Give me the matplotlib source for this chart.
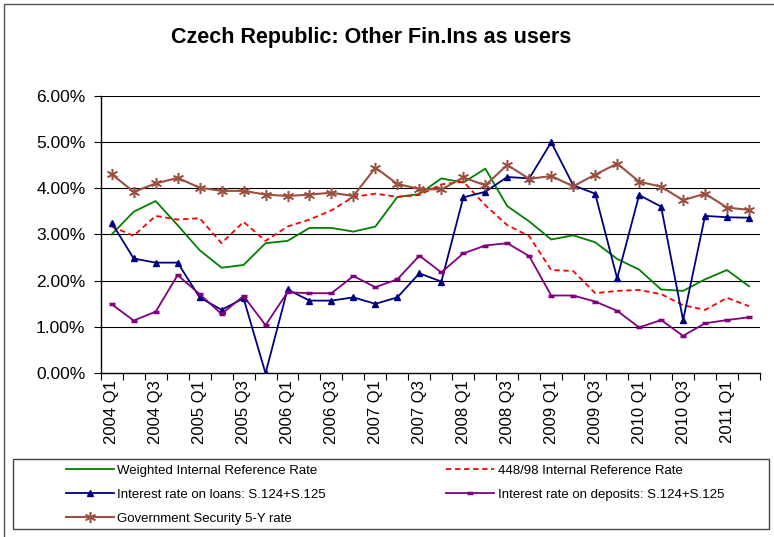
import numpy as np
import matplotlib
matplotlib.use("Agg")
import matplotlib.pyplot as plt
from matplotlib.patches import Rectangle
from matplotlib.ticker import FuncFormatter

plt.rcParams['font.family'] = ['Liberation Sans', 'DejaVu Sans']

quarters = [f"{y} Q{q}" for y in range(2004, 2012) for q in range(1, 5)][:30]

weighted_irr = [3.00, 3.49, 3.72, 3.20, 2.66, 2.28, 2.34, 2.81, 2.86, 3.14,
                3.14, 3.06, 3.17, 3.81, 3.87, 4.21, 4.12, 4.42, 3.61, 3.28,
                2.89, 2.98, 2.83, 2.47, 2.24, 1.81, 1.78, 2.03, 2.23, 1.88]
irr_448 = [3.17, 2.97, 3.40, 3.32, 3.35, 2.81, 3.27, 2.86, 3.17, 3.32,
           3.52, 3.81, 3.88, 3.81, 3.85, 4.08, 4.14, 3.63, 3.20, 2.96,
           2.23, 2.21, 1.73, 1.78, 1.80, 1.71, 1.47, 1.37, 1.63, 1.45]
loans = [3.25, 2.48, 2.39, 2.39, 1.64, 1.37, 1.62, 0.00, 1.81, 1.57,
         1.57, 1.64, 1.50, 1.64, 2.16, 1.98, 3.80, 3.92, 4.24, 4.21,
         4.99, 4.06, 3.88, 2.05, 3.85, 3.60, 1.15, 3.40, 3.37, 3.36]
deposits = [1.49, 1.14, 1.33, 2.12, 1.71, 1.28, 1.67, 1.04, 1.75, 1.73,
            1.73, 2.10, 1.86, 2.03, 2.54, 2.18, 2.59, 2.76, 2.81, 2.53,
            1.68, 1.68, 1.55, 1.35, 0.99, 1.15, 0.81, 1.08, 1.15, 1.21]
gov_5y = [4.30, 3.92, 4.10, 4.22, 4.01, 3.94, 3.94, 3.86, 3.83, 3.86,
          3.90, 3.83, 4.44, 4.09, 3.98, 3.97, 4.23, 4.06, 4.50, 4.20,
          4.26, 4.04, 4.29, 4.53, 4.14, 4.03, 3.74, 3.88, 3.58, 3.53]

x = np.arange(len(quarters))

fig = plt.figure(figsize=(7.74, 5.37), dpi=100)
ax = fig.add_axes([100.7 / 774, 1 - 373.3 / 537, (760 - 100.7) / 774, (373.3 - 95.5) / 537])

for yv in range(1, 7):
    ax.axhline(yv, color='black', lw=0.8, zorder=1)

l_green, = ax.plot(x, weighted_irr, color='#008000', lw=1.3, zorder=3,
                   label='Weighted Internal Reference Rate')
l_red, = ax.plot(x, irr_448, color='#ff0000', lw=1.3, ls=(0, (3, 2)), zorder=3,
                 label='448/98 Internal Reference Rate')
l_blue, = ax.plot(x, loans, color='#000080', lw=1.3, marker='^', ms=4.5, zorder=4,
                  label='Interest rate on loans: S.124+S.125')
l_purple, = ax.plot(x, deposits, color='#800080', lw=1.3, marker='_', ms=4.5, mew=2.5,
                    zorder=4, label='Interest rate on deposits: S.124+S.125')
l_brown, = ax.plot(x, gov_5y, color='#9b5040', lw=1.5, marker=(6, 2, 0), ms=8, mew=1.1,
                   zorder=4, label='Government Security 5-Y rate')

ax.set_xlim(-0.5, len(quarters) - 0.5)
ax.set_ylim(0, 6)
ax.yaxis.set_major_formatter(FuncFormatter(lambda v, p: f"{v:.2f}%"))
ax.set_yticks(range(0, 7))
ax.tick_params(axis='y', labelsize=12.5, length=5, color='black', pad=6)

ax.set_xticks(np.arange(-0.5, len(quarters), 1))
ax.set_xticklabels([])
ax.tick_params(axis='x', which='major', length=5, color='black')
ax.set_xticks(x[::2], minor=True)
ax.set_xticklabels(quarters[::2], minor=True, rotation=90, fontsize=12)
ax.tick_params(axis='x', which='minor', length=0, pad=5)

for s in ['top', 'right']:
    ax.spines[s].set_visible(False)
for s in ['left', 'bottom']:
    ax.spines[s].set_color('black')
    ax.spines[s].set_linewidth(1.0)

fig.text(371 / 774, 1 - 37 / 537, 'Czech Republic: Other Fin.Ins as users',
         ha='center', va='center', fontsize=15.5, fontweight='bold')

handles = [l_green, l_blue, l_brown, l_red, l_purple]
leg = fig.legend(handles=handles, labels=[h.get_label() for h in handles],
                 ncol=2, loc='lower left', mode='expand',
                 bbox_to_anchor=(66 / 774, 1 - 525 / 537, (724 - 66) / 774, 66 / 537),
                 fontsize=9.5, handlelength=3.6, frameon=False,
                 borderpad=0, borderaxespad=0, labelspacing=0.9, handletextpad=0.3)

# legend box
fig.patches.append(Rectangle((13 / 774, 1 - 529 / 537), 756 / 774, 70 / 537,
                             transform=fig.transFigure, fill=False,
                             edgecolor='#444444', lw=1.0))

# outer chart border
fig.patches.append(Rectangle((4 / 774, -0.01), 1.0, 1 - 3.5 / 537 + 0.01,
                             transform=fig.transFigure, fill=False,
                             edgecolor='#555555', lw=1.0))

fig.savefig('out.png', dpi=100)
